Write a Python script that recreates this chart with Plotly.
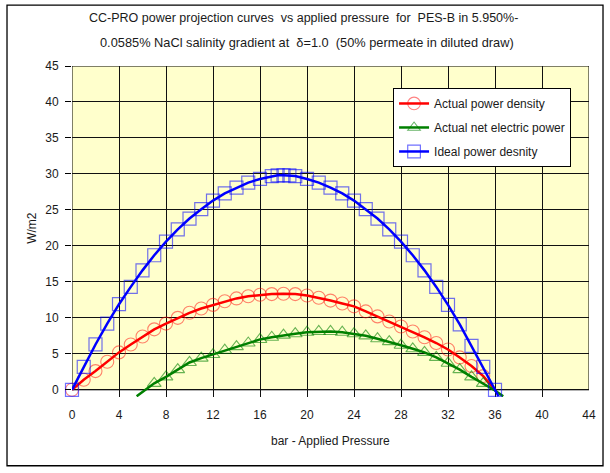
import plotly.graph_objects as go

# ---- data ----
ideal_pressure = [0, 1, 2, 3, 4, 5, 6, 7, 8, 9, 10, 11, 12, 13, 14, 15, 16, 17, 17.5, 18, 18.5,
                  19, 20, 21, 22, 23, 24, 25, 26, 27, 28, 29, 30, 31, 32, 33, 34, 35, 36, 36.3]
ideal_power = [0, 3.2, 6.3, 9.2, 11.9, 14.3, 16.6, 18.7, 20.6, 22.3, 23.8, 25.1, 26.3, 27.3, 28.1,
               28.8, 29.3, 29.7, 29.8, 29.8, 29.8, 29.7, 29.3, 28.8, 28.1, 27.3, 26.3, 25.1, 23.8,
               22.3, 20.6, 18.7, 16.6, 14.3, 11.8, 9.1, 6.1, 3.2, 0.0, -0.9]

actual_pressure = [0, 1, 2, 3, 4, 5, 6, 7, 8, 9, 10, 11, 12, 13, 14, 15, 16, 17, 18, 19, 20,
                   21, 22, 23, 24, 25, 26, 27, 28, 29, 30, 31, 32, 33, 34, 35, 36.1]
actual_power = [0, 1.4, 2.6, 3.9, 5.2, 6.3, 7.4, 8.4, 9.2, 10.0, 10.7, 11.3, 11.8, 12.3, 12.7,
                13.0, 13.2, 13.3, 13.35, 13.3, 13.1, 12.8, 12.4, 12.0, 11.6, 10.9, 10.2, 9.5,
                8.8, 8.1, 7.3, 6.5, 5.6, 4.5, 3.3, 1.9, -0.2]

net_pressure = [5.5, 7, 8, 9, 10, 11, 12, 13, 14, 15, 16, 17, 18, 19, 20, 21, 22, 23, 24, 25,
                26, 27, 28, 29, 30, 31, 32, 33, 34, 35, 36, 36.7]
net_power = [-0.9, 0.9, 1.8, 2.8, 3.8, 4.4, 4.9, 5.5, 6.0, 6.5, 7.0, 7.3, 7.6, 7.8, 8.0, 8.1,
             8.1, 8.0, 7.8, 7.5, 7.1, 6.7, 6.2, 5.7, 5.2, 4.5, 3.7, 2.8, 1.8, 0.9, -0.1, -0.9]

x_ticks = [0, 4, 8, 12, 16, 20, 24, 28, 32, 36, 40, 44]
y_ticks = [0, 5, 10, 15, 20, 25, 30, 35, 40, 45]

title_line1 = "CC-PRO power projection curves  vs applied pressure  for  PES-B in 5.950%-"
title_line2 = "0.0585% NaCl salinity gradient at  δ=1.0  (50% permeate in diluted draw)"

FONT = "Liberation Sans, Arial, sans-serif"
TXT = "#1a1a1a"


def sizes(vals, s):
    return [s if v >= 0 else 0 for v in vals]


fig = go.Figure()
fig.add_trace(go.Scatter(
    x=actual_pressure, y=actual_power, name="Actual power density", mode="lines+markers",
    legendgroup="a",
    line=dict(color="#FF0000", width=2.5),
    marker=dict(symbol="circle-open", size=sizes(actual_power, 13),
                color="rgba(255,0,0,0.7)", line=dict(width=1.1)),
    cliponaxis=False))
fig.add_trace(go.Scatter(
    x=net_pressure, y=net_power, name="Actual net electric power", mode="lines+markers",
    legendgroup="b",
    line=dict(color="#008000", width=2.5),
    marker=dict(symbol="triangle-up-open", size=sizes(net_power, 12),
                color="rgba(0,128,0,0.85)", line=dict(width=1.1)),
    cliponaxis=False))
fig.add_trace(go.Scatter(
    x=ideal_pressure, y=ideal_power, name="Ideal power desnity", mode="lines+markers",
    legendgroup="c",
    line=dict(color="#0000FF", width=2.5),
    marker=dict(symbol="square-open", size=sizes(ideal_power, 13),
                color="rgba(0,0,255,0.8)", line=dict(width=1.2)),
    cliponaxis=False))

# yellow plot area from 0 to 45 (Excel-style), lines may run slightly below
fig.add_shape(type="rect", xref="x", yref="y", x0=x_ticks[0], x1=x_ticks[-1],
              y0=y_ticks[0], y1=y_ticks[-1], fillcolor="#FFFFCC",
              line=dict(color="black", width=1), layer="below")
# outer chart frame
fig.add_shape(type="rect", xref="paper", yref="paper", x0=-0.1257, x1=1.0271,
              y0=-0.2077, y1=1.1842, line=dict(color="black", width=1.3),
              fillcolor="rgba(0,0,0,0)", layer="above")

fig.add_annotation(text=title_line1, xref="paper", yref="paper", x=0.447, y=1.1449,
                   showarrow=False, xanchor="center", yanchor="middle",
                   font=dict(family=FONT, size=12.5, color=TXT))
fig.add_annotation(text=title_line2, xref="paper", yref="paper", x=0.455, y=1.0695,
                   showarrow=False, xanchor="center", yanchor="middle",
                   font=dict(family=FONT, size=12.8, color=TXT))
fig.add_annotation(text="bar - Applied Pressure", xref="paper", yref="paper", x=0.5,
                   y=-0.1322, showarrow=False, xanchor="center", yanchor="middle",
                   font=dict(family=FONT, size=12, color=TXT))
fig.add_annotation(text="W/m2", xref="paper", yref="paper", x=-0.0774, y=0.511,
                   showarrow=False, textangle=-90, xanchor="center", yanchor="middle",
                   font=dict(family=FONT, size=12, color=TXT))

fig.update_layout(
    width=610, height=473,
    margin=dict(l=72, r=21, t=66, b=76),
    paper_bgcolor="white", plot_bgcolor="white",
    font=dict(family=FONT, size=12, color=TXT),
    showlegend=True,
    legend=dict(x=0.621, y=0.9336, xanchor="left", yanchor="top",
                bgcolor="white", bordercolor="black", borderwidth=1,
                font=dict(family=FONT, size=12, color=TXT), tracegroupgap=5,
                itemwidth=30),
    xaxis=dict(range=[x_ticks[0], x_ticks[-1]], tickmode="array", tickvals=x_ticks,
               showgrid=True, gridcolor="#111111", gridwidth=1, zeroline=False,
               showline=False, ticks="outside", ticklen=7, tickcolor="rgba(0,0,0,0)",
               tickfont=dict(family=FONT, size=12, color=TXT)),
    yaxis=dict(range=[-1.0, 45], tickmode="array", tickvals=y_ticks,
               showgrid=True, gridcolor="#111111", gridwidth=1, zeroline=False,
               showline=False, ticks="outside", ticklen=6, tickcolor="black",
               ticklabelstandoff=4,
               tickfont=dict(family=FONT, size=12, color=TXT)),
)

fig.write_html("out.html")
